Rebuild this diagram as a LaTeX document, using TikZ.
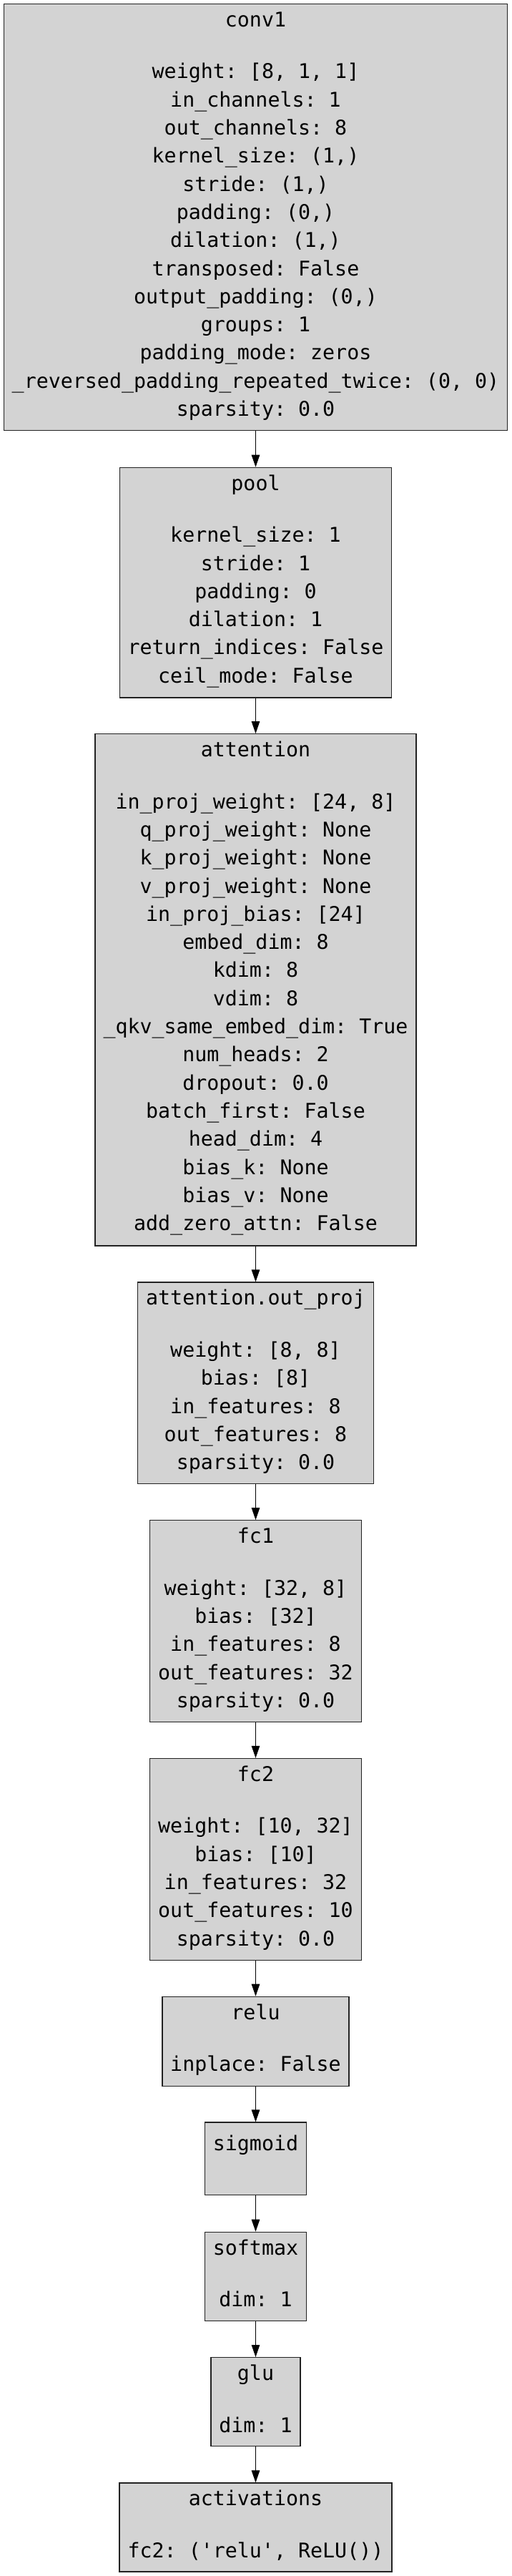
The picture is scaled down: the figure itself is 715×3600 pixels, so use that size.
\documentclass[tikz,border=0pt]{standalone}
\usepackage{fontspec}
\setmonofont{DejaVu Sans Mono}
\usetikzlibrary{arrows.meta}
\definecolor{boxfill}{HTML}{D3D3D3}
\definecolor{boxline}{HTML}{222222}
\tikzset{
  box/.style={draw=boxline, line width=1.2pt, fill=boxfill, inner sep=0pt, rectangle},
  lbl/.style={font=\ttfamily\fontsize{28.3}{39.3}\selectfont, inner sep=0pt, anchor=base, text=black},
  arr/.style={line width=1.1pt, draw=black, -{Triangle[length=17pt,width=11.5pt]}}
}
% #1 node prefix, #2 first baseline (downwards), #3 list of lines
\newcommand\paramlines[3]{%
  \foreach \txt [count=\i] in {#3} {%
    \node[lbl] (#1-\i) at (357.5, {-(#2+(\i-1)*39.3)}) {\txt};
  }%
}
\begin{document}
\begin{tikzpicture}[x=1pt,y=1pt]
\useasboundingbox (0,0) rectangle (715,-3600);
% boxes
\node[box, minimum width=704pt, minimum height=596.1pt] (conv1) at (357.5,-303.55) {};
\node[box, minimum width=380.7pt, minimum height=321.7pt] (pool) at (357.5,-814.15) {};
\node[box, minimum width=449.1pt, minimum height=715.3pt] (attention) at (357.5,-1383.35) {};
\node[box, minimum width=330.2pt, minimum height=281.8pt] (outproj) at (357.5,-1932.9) {};
\node[box, minimum width=295.9pt, minimum height=281.7pt] (fc1) at (357.5,-2265.55) {};
\node[box, minimum width=295.9pt, minimum height=282.3pt] (fc2) at (357.5,-2598.55) {};
\node[box, minimum width=260.9pt, minimum height=125.1pt] (relu) at (357.5,-2852.85) {};
\node[box, minimum width=142pt, minimum height=101.7pt] (sigmoid) at (357.5,-3016.85) {};
\node[box, minimum width=142.2pt, minimum height=124.3pt] (softmax) at (357.5,-3181.45) {};
\node[box, minimum width=125pt, minimum height=124pt] (glu) at (357.5,-3356.6) {};
\node[box, minimum width=381pt, minimum height=124pt] (activations) at (357.5,-3532) {};
% titles
\node[lbl] (conv1-t) at (357.5,-37.2) {conv1};
\node[lbl] (pool-t) at (357.5,-685.0) {pool};
\node[lbl] (attention-t) at (357.5,-1057.4) {attention};
\node[lbl] (outproj-t) at (357.5,-1823.7) {attention.out\_proj};
\node[lbl] (fc1-t) at (357.5,-2156.4) {fc1};
\node[lbl] (fc2-t) at (357.5,-2489.1) {fc2};
\node[lbl] (relu-t) at (357.5,-2822.0) {relu};
\node[lbl] (sigmoid-t) at (357.5,-3005.7) {sigmoid};
\node[lbl] (softmax-t) at (357.5,-3151.0) {softmax};
\node[lbl] (glu-t) at (357.5,-3326.3) {glu};
\node[lbl] (activations-t) at (357.5,-3501.7) {activations};
% parameter lines
\paramlines{conv1}{109.9}{{weight: [8, 1, 1]},{in\_channels: 1},{out\_channels: 8},{kernel\_size: (1,)},{stride: (1,)},{padding: (0,)},{dilation: (1,)},{transposed: False},{output\_padding: (0,)},{groups: 1},{padding\_mode: zeros},{\_reversed\_padding\_repeated\_twice: (0, 0)},{sparsity: 0.0}}
\paramlines{pool}{757.7}{{kernel\_size: 1},{stride: 1},{padding: 0},{dilation: 1},{return\_indices: False},{ceil\_mode: False}}
\paramlines{attention}{1130.1}{{in\_proj\_weight: [24, 8]},{q\_proj\_weight: None},{k\_proj\_weight: None},{v\_proj\_weight: None},{in\_proj\_bias: [24]},{embed\_dim: 8},{kdim: 8},{vdim: 8},{\_qkv\_same\_embed\_dim: True},{num\_heads: 2},{dropout: 0.0},{batch\_first: False},{head\_dim: 4},{bias\_k: None},{bias\_v: None},{add\_zero\_attn: False}}
\paramlines{outproj}{1896.4}{{weight: [8, 8]},{bias: [8]},{in\_features: 8},{out\_features: 8},{sparsity: 0.0}}
\paramlines{fc1}{2229.1}{{weight: [32, 8]},{bias: [32]},{in\_features: 8},{out\_features: 32},{sparsity: 0.0}}
\paramlines{fc2}{2561.8}{{weight: [10, 32]},{bias: [10]},{in\_features: 32},{out\_features: 10},{sparsity: 0.0}}
\paramlines{relu}{2894.7}{{inplace: False}}
\paramlines{softmax}{3223.7}{{dim: 1}}
\paramlines{glu}{3399.0}{{dim: 1}}
\paramlines{activations}{3574.4}{{fc2: ('relu', ReLU())}}
% connectors
\draw[arr] (conv1) -- (pool);
\draw[arr] (pool) -- (attention);
\draw[arr] (attention) -- (outproj);
\draw[arr] (outproj) -- (fc1);
\draw[arr] (fc1) -- (fc2);
\draw[arr] (fc2) -- (relu);
\draw[arr] (relu) -- (sigmoid);
\draw[arr] (sigmoid) -- (softmax);
\draw[arr] (softmax) -- (glu);
\draw[arr] (glu) -- (activations);
\end{tikzpicture}
\end{document}
